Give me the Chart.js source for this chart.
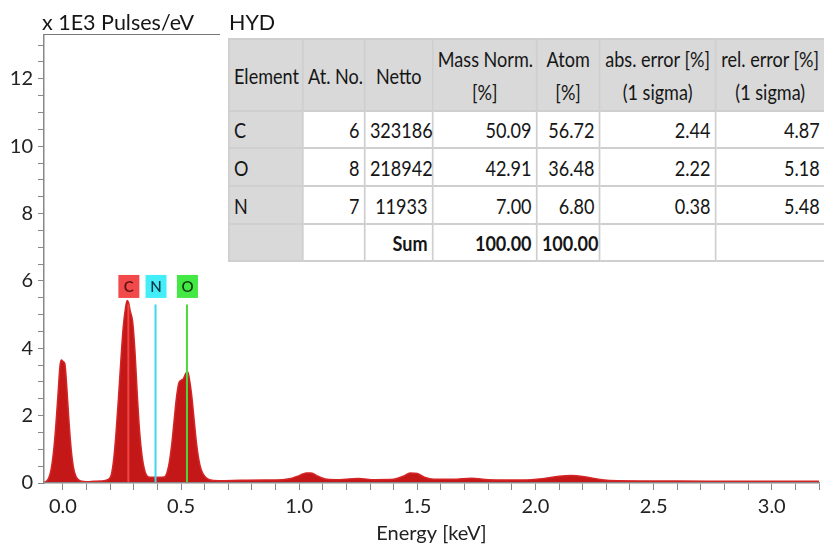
<!DOCTYPE html>
<html>
<head>
<meta charset="utf-8">
<title>EDS spectrum HYD</title>
<script src="https://cdn.jsdelivr.net/npm/chart.js@4.4.1/dist/chart.umd.min.js"></script>
<style>
  body { margin: 0; background: #fff; }
  #box { position: relative; width: 824px; height: 550px; overflow: hidden; font-family: Lato, 'Liberation Sans', sans-serif; color: #161616; }
  #spectrum { position: absolute; left: 0; top: 0; }
  .lbl { position: absolute; font-size: 21.5px; line-height: 20px; white-space: nowrap; }
  #unitLine { position: absolute; left: 44px; top: 34px; width: 176px; height: 0; border-top: 1.5px solid #777; }
  /* table is laid out wider and squeezed, to get the narrow look of the original font */
  #quant { position: absolute; left: 228px; top: 38px; width: 693px; border-collapse: collapse; table-layout: fixed;
           font-size: 21px; background: #fff; transform: scaleX(0.86); transform-origin: 0 0; }
  #quant td { border: 2px solid #cfcfcf; padding: 0 5px; text-align: right; white-space: nowrap; line-height: 33px; }
  #quant thead td { background: #d9d9d9; text-align: center; }
  #quant td.el { background: #d9d9d9; text-align: left; }
  #quant .b { font-weight: bold; }
</style>
</head>
<body>
<div id="box">
  <canvas id="spectrum" width="824" height="550"></canvas>
  <div class="lbl" style="left:42px; top:12px;">x 1E3 Pulses/eV</div>
  <div id="unitLine"></div>
  <div class="lbl" style="left:229px; top:12px;">HYD</div>
  <table id="quant">
    <colgroup>
      <col style="width:86px"><col style="width:72px"><col style="width:79px"><col style="width:121px">
      <col style="width:73px"><col style="width:135px"><col style="width:127px">
    </colgroup>
    <thead></thead>
    <tbody></tbody>
  </table>
</div>
<script>
// spectrum (energy in keV, counts in 1E3 pulses/eV)
const energy = [-0.08, -0.07, -0.06, -0.05, -0.04, -0.03, -0.02, -0.012, -0.006, 0.002, 0.008, 0.015, 0.025, 0.035, 0.045, 0.055, 0.065, 0.08,
  0.10, 0.13, 0.16, 0.19, 0.205, 0.215, 0.225, 0.235, 0.245, 0.255, 0.265, 0.272, 0.278, 0.285, 0.295, 0.305, 0.315, 0.325, 0.335, 0.345, 0.355,
  0.37, 0.40, 0.43, 0.44, 0.45, 0.46, 0.47, 0.48, 0.49, 0.50, 0.51, 0.52, 0.528, 0.535, 0.545, 0.555, 0.565, 0.575, 0.585, 0.60, 0.62, 0.66,
  0.75, 0.85, 0.93, 0.97, 1.00, 1.03, 1.05, 1.08, 1.11, 1.15, 1.25, 1.32, 1.40, 1.44, 1.47, 1.50, 1.53, 1.57, 1.65, 1.73, 1.80,
  1.95, 2.03, 2.10, 2.15, 2.22, 2.28, 2.35, 2.6, 2.9, 3.2];
const counts = [0.02, 0.05, 0.15, 0.4, 0.9, 1.7, 2.7, 3.5, 3.65, 3.6, 3.55, 3.0, 1.9, 1.0, 0.45, 0.2, 0.1, 0.05,
  0.04, 0.05, 0.06, 0.1, 0.25, 0.7, 1.5, 2.5, 3.6, 4.6, 5.2, 5.42, 5.35, 5.1, 4.8, 3.9, 2.6, 1.5, 0.8, 0.4, 0.22,
  0.17, 0.17, 0.18, 0.3, 0.6, 1.1, 1.8, 2.5, 2.95, 3.05, 3.1, 3.25, 3.3, 3.1, 2.6, 1.9, 1.2, 0.7, 0.4, 0.2, 0.1, 0.07,
  0.08, 0.09, 0.1, 0.14, 0.22, 0.3, 0.3, 0.2, 0.12, 0.1, 0.13, 0.1, 0.11, 0.2, 0.3, 0.28, 0.17, 0.11, 0.11, 0.14, 0.1,
  0.09, 0.13, 0.2, 0.22, 0.17, 0.1, 0.07, 0.06, 0.05, 0.05];

// element markers
const markerSymbols = ['C', 'N', 'O'];
const markerEnergy = [0.277, 0.392, 0.525];
const markerTop = 5.3;
const markerLabelLevel = 5.85;
const markerLineColors = ['#f04646', '#3cd8ee', '#4cd83a'];
const markerBoxColors = ['#f24a4a', '#44eef8', '#44e844'];
const markerTextColors = ['#5a1010', '#0e3a48', '#0e4010'];

// quantification table
const tableHead = ['Element', 'At. No.', 'Netto', 'Mass Norm.<br>[%]', 'Atom<br>[%]', 'abs. error [%]<br>(1 sigma)', 'rel. error [%]<br>(1 sigma)'];
const elementNames = ['C', 'O', 'N'];
const atomicNumbers = [6, 8, 7];
const netto = [323186, 218942, 11933];
const massNorm = ['50.09', '42.91', '7.00'];
const atomPct = ['56.72', '36.48', '6.80'];
const absError = ['2.44', '2.22', '0.38'];
const relError = ['4.87', '5.18', '5.48'];
const sumMass = '100.00';
const sumAtom = '100.00';

const thead = document.querySelector('#quant thead');
const tbody = document.querySelector('#quant tbody');
thead.innerHTML = '<tr style="height:72px">' + tableHead.map((h, i) =>
  '<td' + (i === 0 ? ' style="text-align:left"' : '') + '>' + h + '</td>').join('') + '</tr>';
let rows = '';
const rowHeights = [37, 38, 38];
elementNames.forEach((el, i) => {
  rows += '<tr style="height:' + rowHeights[i] + 'px"><td class="el">' + el + '</td><td>' + atomicNumbers[i] + '</td><td>' + netto[i] +
    '</td><td>' + massNorm[i] + '</td><td>' + atomPct[i] + '</td><td>' + absError[i] + '</td><td>' + relError[i] + '</td></tr>';
});
rows += '<tr style="height:37px"><td class="el"></td><td></td><td class="b">Sum</td><td class="b">' + sumMass +
  '</td><td class="b">' + sumAtom + '</td><td></td><td></td></tr>';
tbody.innerHTML = rows;

const fontFamily = 'Lato, "Liberation Sans", sans-serif';

const markerLabels = {
  id: 'markerLabels',
  afterDatasetsDraw(chart) {
    const { ctx, scales: { x, y } } = chart;
    ctx.save();
    markerSymbols.forEach((s, i) => {
      const px = x.getPixelForValue(markerEnergy[i]);
      const py = y.getPixelForValue(markerLabelLevel);
      ctx.fillStyle = markerBoxColors[i];
      ctx.fillRect(px - 10, py - 11, 21, 23);
      ctx.fillStyle = markerTextColors[i];
      ctx.font = '600 15px ' + fontFamily;
      ctx.textAlign = 'center';
      ctx.textBaseline = 'middle';
      ctx.fillText(s, px + 0.5, py + 1);
    });
    ctx.restore();
  }
};

const datasets = [{
  label: 'HYD',
  data: energy.map((e, i) => ({ x: e, y: counts[i] })),
  borderColor: '#d42626',
  backgroundColor: '#c41818',
  borderWidth: 1.5,
  pointRadius: 0,
  fill: 'origin',
  cubicInterpolationMode: 'monotone',
  order: 2
}];
markerSymbols.forEach((s, i) => {
  datasets.push({
    label: s,
    data: [{ x: markerEnergy[i], y: 0 }, { x: markerEnergy[i], y: markerTop }],
    borderColor: markerLineColors[i],
    borderWidth: 2,
    pointRadius: 0,
    fill: false,
    order: 1
  });
});

new Chart(document.getElementById('spectrum'), {
  type: 'line',
  data: { datasets: datasets },
  options: {
    responsive: false,
    animation: false,
    layout: { padding: { top: 35, right: 0, left: 0, bottom: 0 } },
    plugins: { legend: { display: false }, tooltip: { enabled: false } },
    scales: {
      x: {
        type: 'linear',
        min: -0.08,
        max: 3.2,
        afterFit: s => { s.height = 67; },
        border: { color: '#888', width: 1.5, z: 1 },
        grid: { drawOnChartArea: false, color: '#888', tickLength: 7 },
        ticks: {
          stepSize: 0.1,
          includeBounds: false,
          autoSkip: false,
          maxRotation: 0,
          padding: 5,
          color: '#222',
          font: { family: fontFamily, size: 20 },
          callback: v => (Math.abs(v * 2 - Math.round(v * 2)) < 1e-6 ? v.toFixed(1) : '')
        },
        title: {
          display: true,
          text: 'Energy [keV]',
          color: '#222',
          font: { family: fontFamily, size: 20 },
          padding: { top: 0, bottom: 4 }
        }
      },
      y: {
        min: 0,
        max: 13.3,
        afterFit: s => { s.width = 44; },
        border: { color: '#888', width: 1.5, z: 1 },
        grid: { drawOnChartArea: false, color: '#888', tickLength: 6 },
        ticks: {
          stepSize: 0.5,
          includeBounds: false,
          autoSkip: false,
          padding: 5,
          color: '#222',
          font: { family: fontFamily, size: 20 },
          callback: v => (Math.abs(v % 2) < 1e-6 ? String(v) : '')
        }
      }
    }
  },
  plugins: [markerLabels]
});
</script>
</body>
</html>
